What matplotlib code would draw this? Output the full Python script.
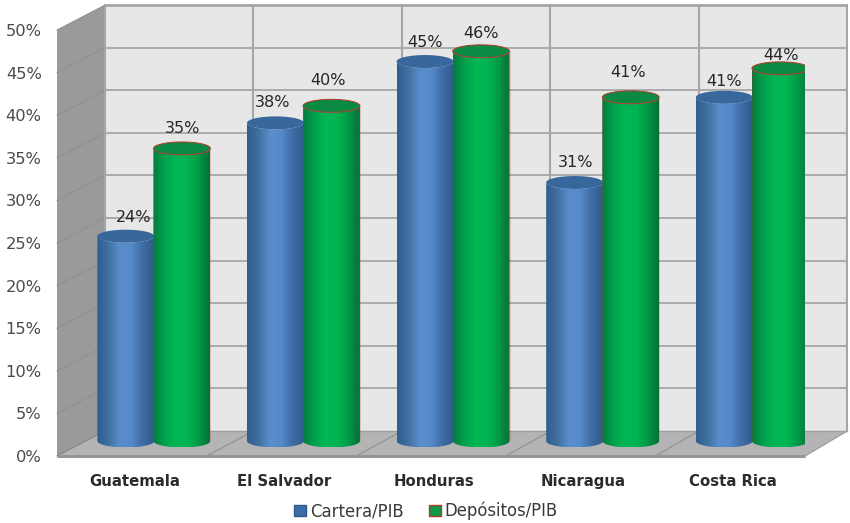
import numpy as np
import matplotlib
matplotlib.use("Agg")
import matplotlib.pyplot as plt
from matplotlib.colors import LinearSegmentedColormap
from matplotlib.patches import Polygon, Patch, PathPatch
from matplotlib.path import Path
from matplotlib.transforms import ScaledTranslation

categories = ["Guatemala", "El Salvador", "Honduras", "Nicaragua", "Costa Rica"]
cartera = [24.3, 37.6, 44.8, 30.6, 40.6]
depositos = [34.6, 39.6, 46.0, 40.6, 44.0]
y_ticks = [0, 5, 10, 15, 20, 25, 30, 35, 40, 45, 50]

# Pseudo-3D frame, in data units of the front plane
DEPTH_X = 0.321
DEPTH_Y = 2.93
BACK_SCALE = 0.992
BASE = 1.76          # cylinder base centre above the front floor edge
TOP_LIFT = 1.5       # value offset of the cylinder tops above the front plane
MID_X = 0.14         # horizontal shift of the cylinders into the depth
HALF_W = 0.19
RY = 0.76
X0, X1, Y1 = -0.5, 4.5, 50

# Label nudges in pixels: (dx, dy) from the top of each cylinder
nudge_a = [(8, 12), (-3, 14), (0, 13), (1, 14), (0, 9)]
nudge_b = [(1, 13), (-4, 19), (0, 11), (-3, 18), (1, 6)]

fig = plt.figure(figsize=(8.5, 5.23), dpi=100, facecolor="white")
W, H = 850, 523
ax = fig.add_axes([57 / W, 1 - 456 / H, 748 / W, 426 / H])
ax.set_xlim(X0, X1)
ax.set_ylim(0, Y1)
for s in ax.spines.values():
    s.set_visible(False)
ax.patch.set_alpha(0)


def back_x(x):
    return X0 + DEPTH_X + (x - X0) * BACK_SCALE


bx0, bx1 = back_x(X0), back_x(X1)
top = Y1 + DEPTH_Y

# Walls and floor
ax.add_patch(Polygon([(bx0, DEPTH_Y), (bx1, DEPTH_Y), (bx1, top), (bx0, top)],
                     fc="#e7e7e7", ec="none", zorder=1, clip_on=False))
ax.add_patch(Polygon([(X0, 0), (bx0, DEPTH_Y), (bx0, top), (X0, Y1)],
                     fc="#9a9a9a", ec="none", zorder=1, clip_on=False))
ax.add_patch(Polygon([(X0, 0), (X1, 0), (bx1, DEPTH_Y), (bx0, DEPTH_Y)],
                     fc="#b4b4b4", ec="none", zorder=1, clip_on=False))

# Gridlines across the back wall and along the left wall
for v in y_ticks[1:]:
    lw = 2.0 if v == 50 else 1.3
    ax.plot([bx0, bx1], [v + DEPTH_Y] * 2, color="#a6a6a6", lw=lw, zorder=2,
            clip_on=False, solid_capstyle="butt")
    ax.plot([X0, bx0], [v, v + DEPTH_Y], color="#8f8f8f", lw=0.7, zorder=2, clip_on=False)
for k in range(len(categories) + 1):
    bx = back_x(X0 + k)
    ax.plot([bx, bx], [DEPTH_Y, top], color="#a6a6a6", lw=1.5, zorder=2, clip_on=False)
    if 0 < k < len(categories):
        ax.plot([X0 + k, bx], [0, DEPTH_Y], color="#8a8a8a", lw=0.7, zorder=2, clip_on=False)
ax.plot([X0, bx0], [0, DEPTH_Y], color="#858585", lw=0.8, zorder=2, clip_on=False)
ax.plot([bx0, bx1], [DEPTH_Y, DEPTH_Y], color="#9c9c9c", lw=1.0, zorder=2, clip_on=False)
ax.plot([X1, bx1], [0, DEPTH_Y], color="#a0a0a0", lw=1.0, zorder=2, clip_on=False)
ax.plot([X0, X1], [0, 0], color="#969696", lw=2.2, zorder=3, clip_on=False,
        solid_capstyle="butt")

blue_cmap = LinearSegmentedColormap.from_list(
    "blue3d", ["#2f5d90", "#41719f", "#5a8dcb", "#558ac9", "#3f6da6", "#2f5a8c"])
green_cmap = LinearSegmentedColormap.from_list(
    "green3d", ["#077a3c", "#00a24e", "#00b854", "#00b552", "#009a48", "#076f36"])


def cylinder(cx, value, cmap, cap_color, edge, z):
    """Draw one shaded cylinder from the floor up to value."""
    y_base = BASE
    y_top = value + TOP_LIFT
    t = np.linspace(0, np.pi, 60)
    xs = cx - HALF_W * np.cos(t)
    body = np.column_stack([
        np.r_[xs, xs[::-1]],
        np.r_[y_base - RY * np.sin(t), y_top - RY * np.sin(t[::-1])],
    ])
    clip = Polygon(body, closed=True, transform=ax.transData, fc="none", ec="none")
    ax.add_patch(clip)
    img = ax.imshow(np.linspace(0, 1, 128)[None, :], cmap=cmap, aspect="auto",
                    extent=(cx - HALF_W, cx + HALF_W, y_base - RY, y_top + RY),
                    zorder=z, interpolation="bilinear")
    img.set_clip_path(clip)
    a = np.linspace(0, 2 * np.pi, 80)
    cap = np.column_stack([cx + HALF_W * np.cos(a), y_top + RY * np.sin(a)])
    ax.add_patch(Polygon(cap, closed=True, fc=cap_color, ec=edge, lw=0.7, zorder=z + 0.1))
    if edge != "none":
        ax.add_patch(PathPatch(Path([(cx - HALF_W, y_top), (cx - HALF_W, y_base)]),
                               ec=edge, lw=0.4, alpha=0.4, zorder=z + 0.1))
        ax.add_patch(PathPatch(Path([(cx + HALF_W, y_top), (cx + HALF_W, y_base)]),
                               ec=edge, lw=0.4, alpha=0.4, zorder=z + 0.1))
    return y_top + RY


for i in range(len(categories)):
    center = i + MID_X
    z = 5 + i
    xa, xb = center - 0.18, center + 0.195
    top_a = cylinder(xa, cartera[i], blue_cmap, "#37679b", "none", z)
    top_b = cylinder(xb, depositos[i], green_cmap, "#0a8a42", "#b8382e", z + 0.3)
    for value, tip, nudge, xc in ((cartera[i], top_a, nudge_a[i], xa),
                                  (depositos[i], top_b, nudge_b[i], xb)):
        ax.annotate(f"{value:.0f}%", (xc, tip), xytext=(nudge[0] * 0.72, nudge[1] * 0.72),
                    textcoords="offset points", ha="center", va="center", fontsize=11.5,
                    color="#262626", zorder=30, annotation_clip=False)

ax.set_xlim(X0, X1)
ax.set_ylim(0, Y1)

ax.set_yticks(y_ticks, [f"{v}%" for v in y_ticks], fontsize=11.7, color="#4a4a4a")
ax.set_xticks(range(len(categories)), categories, fontsize=10.7, fontweight="bold", color="#2b2b2b")
ax.tick_params(axis="both", length=0)
ax.tick_params(axis="y", pad=11)
ax.tick_params(axis="x", pad=13)
shift = ScaledTranslation(3 / 100, 0, fig.dpi_scale_trans)
for lab in ax.get_xticklabels():
    lab.set_transform(lab.get_transform() + shift)

handles = [Patch(fc="#3a6ea8", ec="#2d5a8c", label="Cartera/PIB"),
           Patch(fc="#0a9a48", ec="#b8382e", label="Depósitos/PIB")]
fig.legend(handles=handles, loc="center", bbox_to_anchor=(426 / W, 1 - 511 / H), ncol=2,
           frameon=False, fontsize=11.9, handlelength=0.73, handleheight=0.73,
           handletextpad=0.25, columnspacing=1.5, labelcolor="#3a3a3a")

fig.savefig("out.png", dpi=100)
